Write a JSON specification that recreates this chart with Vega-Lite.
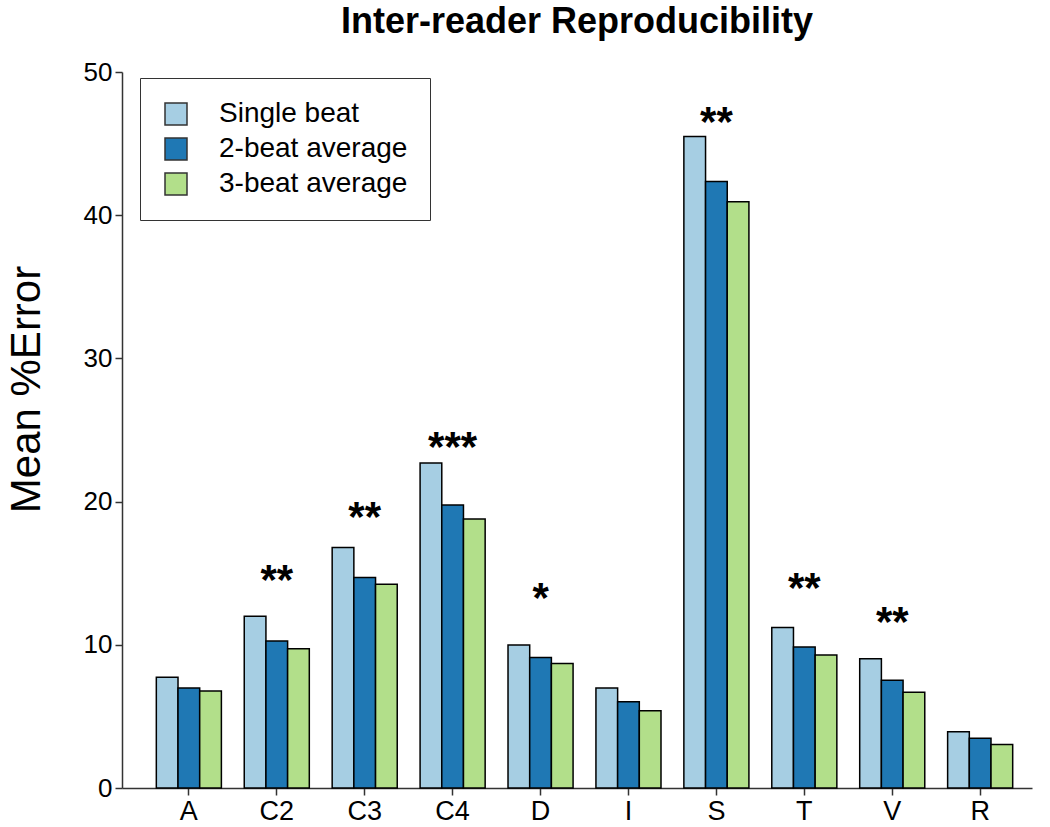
{
  "$schema": "https://vega.github.io/schema/vega-lite/v6.json",
  "width": 910,
  "height": 716,
  "autosize": {"type": "none"},
  "padding": {"left": 122, "top": 72, "right": 18, "bottom": 39},
  "background": "white",
  "config": {
    "font": "Liberation Sans",
    "view": {"stroke": null},
    "axis": {"grid": false, "domainColor": "#333333", "tickColor": "#333333", "domainWidth": 1.5, "tickWidth": 1.5, "labelColor": "black", "labelFont": "Liberation Sans"}
  },
  "title": {
    "text": "Inter-reader Reproducibility",
    "font": "Liberation Sans",
    "fontSize": 36,
    "fontWeight": "bold",
    "anchor": "middle",
    "offset": 18,
    "color": "black"
  },
  "datasets": {
    "bars": [
      {"region": "A", "series": "Single beat", "value": 7.73},
      {"region": "A", "series": "2-beat average", "value": 6.98},
      {"region": "A", "series": "3-beat average", "value": 6.77},
      {"region": "C2", "series": "Single beat", "value": 12.0},
      {"region": "C2", "series": "2-beat average", "value": 10.27},
      {"region": "C2", "series": "3-beat average", "value": 9.73},
      {"region": "C3", "series": "Single beat", "value": 16.8},
      {"region": "C3", "series": "2-beat average", "value": 14.7},
      {"region": "C3", "series": "3-beat average", "value": 14.22},
      {"region": "C4", "series": "Single beat", "value": 22.7},
      {"region": "C4", "series": "2-beat average", "value": 19.76},
      {"region": "C4", "series": "3-beat average", "value": 18.78},
      {"region": "D", "series": "Single beat", "value": 9.99},
      {"region": "D", "series": "2-beat average", "value": 9.12},
      {"region": "D", "series": "3-beat average", "value": 8.7},
      {"region": "I", "series": "Single beat", "value": 6.98},
      {"region": "I", "series": "2-beat average", "value": 6.03},
      {"region": "I", "series": "3-beat average", "value": 5.4},
      {"region": "S", "series": "Single beat", "value": 45.5},
      {"region": "S", "series": "2-beat average", "value": 42.35},
      {"region": "S", "series": "3-beat average", "value": 40.94},
      {"region": "T", "series": "Single beat", "value": 11.2},
      {"region": "T", "series": "2-beat average", "value": 9.85},
      {"region": "T", "series": "3-beat average", "value": 9.29},
      {"region": "V", "series": "Single beat", "value": 9.03},
      {"region": "V", "series": "2-beat average", "value": 7.52},
      {"region": "V", "series": "3-beat average", "value": 6.68},
      {"region": "R", "series": "Single beat", "value": 3.93},
      {"region": "R", "series": "2-beat average", "value": 3.47},
      {"region": "R", "series": "3-beat average", "value": 3.03}
    ],
    "stars": [
      {"region": "C2", "mark": "**", "level": 15.22},
      {"region": "C3", "mark": "**", "level": 19.64},
      {"region": "C4", "mark": "***", "level": 24.5},
      {"region": "D", "mark": "*", "level": 13.97},
      {"region": "S", "mark": "**", "level": 47.23},
      {"region": "T", "mark": "**", "level": 14.66},
      {"region": "V", "mark": "**", "level": 12.31}
    ]
  },
  "layer": [
    {
      "data": {"name": "bars"},
      "mark": {"type": "bar", "stroke": "black", "strokeWidth": 1.5},
      "encoding": {
        "x": {
          "field": "region",
          "type": "nominal",
          "sort": ["A", "C2", "C3", "C4", "D", "I", "S", "T", "V", "R"],
          "scale": {"paddingInner": 0.26, "paddingOuter": 0.305, "align": 0.64},
          "axis": {"title": null, "labelAngle": 0, "labelFontSize": 27, "tickSize": 7, "labelPadding": 3}
        },
        "xOffset": {
          "field": "series",
          "type": "nominal",
          "sort": ["Single beat", "2-beat average", "3-beat average"],
          "scale": {"paddingInner": 0, "paddingOuter": 0}
        },
        "y": {
          "field": "value",
          "type": "quantitative",
          "scale": {"domain": [0, 50], "nice": false},
          "axis": {
            "values": [0, 10, 20, 30, 40, 50],
            "labelFontSize": 26,
            "tickSize": 7,
            "labelPadding": 3,
            "title": "Mean %Error",
            "titleFontSize": 42,
            "titleFontWeight": "normal",
            "titleColor": "black",
            "titleAngle": -90,
            "titleX": -96,
            "titleY": 317,
            "titleAlign": "center",
            "titleBaseline": "middle"
          }
        },
        "color": {
          "field": "series",
          "type": "nominal",
          "scale": {
            "domain": ["Single beat", "2-beat average", "3-beat average"],
            "range": ["#a6cee3", "#1f78b4", "#b2df8a"]
          },
          "legend": {
            "title": null,
            "orient": "none",
            "legendX": 18,
            "legendY": 6,
            "direction": "vertical",
            "strokeColor": "#333333",
            "fillColor": "white",
            "padding": 22,
            "symbolType": "square",
            "symbolSize": 484,
            "symbolStrokeColor": "#333333",
            "symbolStrokeWidth": 1.5,
            "symbolOpacity": 1,
            "labelFontSize": 28,
            "labelOffset": 29,
            "labelColor": "black",
            "rowPadding": 7,
            "labelLimit": 400
          }
        }
      }
    },
    {
      "data": {"name": "stars"},
      "mark": {"type": "text", "fontSize": 42, "fontWeight": "bold", "baseline": "alphabetic", "align": "center", "dy": 24, "color": "black"},
      "encoding": {
        "x": {"field": "region", "type": "nominal", "sort": ["A", "C2", "C3", "C4", "D", "I", "S", "T", "V", "R"]},
        "y": {"field": "level", "type": "quantitative"},
        "text": {"field": "mark"}
      }
    }
  ]
}
